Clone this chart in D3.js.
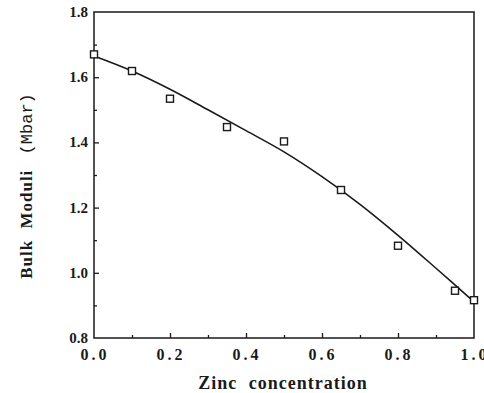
<!DOCTYPE html>
<html lang="en">
<head>
<meta charset="UTF-8" />
<title>Bulk Moduli vs Zinc concentration</title>
<script src="https://d3js.org/d3.v7.min.js"></script>
<style>
  * { margin: 0; padding: 0; box-sizing: border-box; }
  body { background: #fff; }
  svg { display: block; }
</style>
</head>
<body>
<svg width="484" height="393"></svg>
<script>
// measured points
var zinc = [0.0, 0.1, 0.2, 0.35, 0.5, 0.65, 0.8, 0.95, 1.0];
var bulk = [1.670, 1.619, 1.534, 1.447, 1.403, 1.254, 1.083, 0.945, 0.916];

// fitted curve
var fitX = [0.0, 0.1, 0.2, 0.3, 0.4, 0.5, 0.6, 0.7, 0.8, 0.9, 1.0];
var fitY = [1.665, 1.619, 1.563, 1.500, 1.436, 1.371, 1.295, 1.210, 1.115, 1.014, 0.911];

var xTicks = [0.0, 0.2, 0.4, 0.6, 0.8, 1.0];
var yTicks = [0.8, 1.0, 1.2, 1.4, 1.6, 1.8];

// plot box (pixels)
var plotLeft = 94, plotRight = 474, plotTop = 12, plotBottom = 338;
var ink = "#1a1a1a";

var svg = d3.select("svg");

var xScale = d3.scaleLinear().domain([0, 1]).range([plotLeft, plotRight]);
var yScale = d3.scaleLinear().domain([0.8, 1.8]).range([plotBottom, plotTop]);

// frame
svg.append("rect")
    .attr("x", plotLeft).attr("y", plotTop)
    .attr("width", plotRight - plotLeft).attr("height", plotBottom - plotTop)
    .attr("fill", "none").attr("stroke", ink).attr("stroke-width", 1.5);

// x axis, ticks pointing inward
var xAxis = d3.axisTop(xScale).tickValues(d3.range(0.1, 1.0, 0.1)).tickFormat("");
svg.append("g")
    .attr("transform", "translate(0," + plotBottom + ")")
    .call(xAxis)
    .call(function(g) { g.select(".domain").remove(); })
    .call(function(g) {
        g.selectAll(".tick line")
            .attr("stroke", ink).attr("stroke-width", 1.3)
            .attr("y2", function(d) { return Math.round(d * 10) % 2 === 0 ? -5 : -3; });
    });

svg.append("g").selectAll("text")
    .data(xTicks)
    .enter()
    .append("text")
    .attr("x", function(d) { return xScale(d) + 1; })
    .attr("y", 360)
    .attr("text-anchor", "middle")
    .attr("font-family", "Liberation Serif, serif")
    .attr("font-weight", "bold")
    .attr("font-size", "16px")
    .attr("letter-spacing", "3px")
    .attr("fill", ink)
    .text(function(d) { return d.toFixed(1); });

// y axis, ticks pointing inward
var yAxis = d3.axisRight(yScale).tickValues(d3.range(0.9, 1.8, 0.1)).tickFormat("");
svg.append("g")
    .attr("transform", "translate(" + plotLeft + ",0)")
    .call(yAxis)
    .call(function(g) { g.select(".domain").remove(); })
    .call(function(g) {
        g.selectAll(".tick line")
            .attr("stroke", ink).attr("stroke-width", 1.3)
            .attr("x2", function(d) { return Math.round(d * 10) % 2 === 0 ? 5 : 3; });
    });

svg.append("g").selectAll("text")
    .data(yTicks)
    .enter()
    .append("text")
    .attr("x", plotLeft - 6)
    .attr("y", function(d) { return yScale(d) + 5; })
    .attr("text-anchor", "end")
    .attr("font-family", "Liberation Serif, serif")
    .attr("font-weight", "bold")
    .attr("font-size", "15px")
    .attr("fill", ink)
    .text(function(d) { return d.toFixed(1); });

// fitted line
var line = d3.line()
    .x(function(d) { return xScale(d[0]); })
    .y(function(d) { return yScale(d[1]); })
    .curve(d3.curveCatmullRom);

svg.append("path")
    .datum(d3.zip(fitX, fitY))
    .attr("d", line)
    .attr("fill", "none")
    .attr("stroke", ink)
    .attr("stroke-width", 1.6);

// square markers
svg.selectAll("rect.pt")
    .data(d3.zip(zinc, bulk))
    .enter()
    .append("rect")
    .attr("class", "pt")
    .attr("x", function(d) { return xScale(d[0]) - 3.5; })
    .attr("y", function(d) { return yScale(d[1]) - 3.5; })
    .attr("width", 7).attr("height", 7)
    .attr("fill", "#fff")
    .attr("stroke", ink)
    .attr("stroke-width", 1.4);

// axis titles
svg.append("text")
    .attr("x", 283)
    .attr("y", 389)
    .attr("text-anchor", "middle")
    .attr("font-family", "Liberation Serif, serif")
    .attr("font-weight", "bold")
    .attr("font-size", "18px")
    .attr("letter-spacing", "1px")
    .attr("word-spacing", "6px")
    .attr("fill", ink)
    .text("Zinc concentration");

var yTitle = svg.append("text")
    .attr("transform", "translate(32,186) rotate(-90)")
    .attr("text-anchor", "middle")
    .attr("font-size", "17px")
    .attr("fill", ink);
yTitle.append("tspan")
    .attr("font-family", "Liberation Serif, serif")
    .attr("font-weight", "bold")
    .attr("letter-spacing", "1px")
    .attr("word-spacing", "6px")
    .text("Bulk Moduli ");
yTitle.append("tspan")
    .attr("font-family", "Liberation Mono, monospace")
    .attr("dx", 4)
    .text("(Mbar)");
</script>
</body>
</html>
